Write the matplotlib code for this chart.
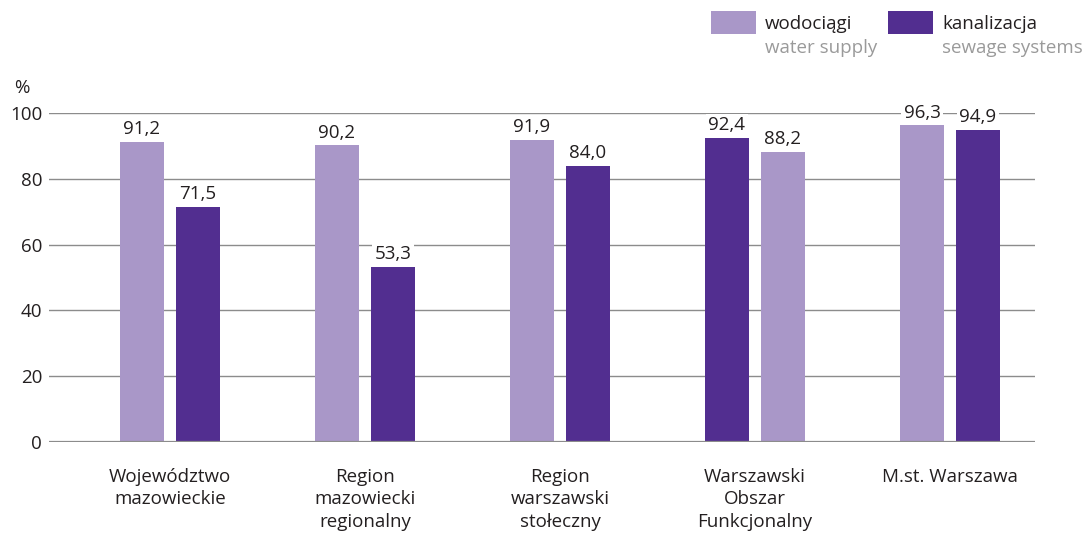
import numpy as np
import matplotlib.pyplot as plt
from matplotlib.patches import Rectangle

plt.rcParams['font.family'] = ['Open Sans', 'DejaVu Sans']

# data
categories = ['Województwo\nmazowieckie', 'Region\nmazowiecki\nregionalny',
              'Region\nwarszawski\nstołeczny', 'Warszawski\nObszar\nFunkcjonalny',
              'M.st. Warszawa']
water = [91.2, 90.2, 91.9, 88.2, 96.3]
sewage = [71.5, 53.3, 84.0, 92.4, 94.9]
# in the source the 4th group has the bars in reverse order
water_side = [-1, -1, -1, 1, -1]
yticks = [0, 20, 40, 60, 80, 100]

light = '#a997c8'
dark = '#522e90'
grid_c = '#8c8c8c'
text_c = '#231f20'
fs = 13.5

W, H = 1086, 533
fig = plt.figure(figsize=(W / 100, H / 100), dpi=100)
ax = fig.add_axes([49 / W, 91 / H, 986 / W, 329 / H])

x = np.arange(len(categories))
bw = 0.2256
off = 0.1436
side = np.array(water_side)

ax.bar(x + side * off, water, width=bw, color=light, zorder=3)
ax.bar(x - side * off, sewage, width=bw, color=dark, zorder=3)

def label(xs, vals):
    for xi, v in zip(xs, vals):
        ax.annotate(f'{v:.1f}'.replace('.', ','), (xi, v), xytext=(0, 5.5),
                    textcoords='offset points', ha='center', va='baseline',
                    fontsize=fs, color=text_c, zorder=4, annotation_clip=False,
                    bbox=dict(boxstyle='square,pad=0.15', fc='white', ec='none'))

label(x + side * off, water)
label(x - side * off, sewage)

ax.set_xlim(-0.62, 4.436)
ax.set_ylim(0, 100)
ax.set_yticks(yticks)
ax.set_yticklabels([str(t) for t in yticks])
ax.yaxis.grid(True, color=grid_c, linewidth=1.0, zorder=0)
ax.set_axisbelow(True)
ax.axhline(0, color=grid_c, linewidth=1.6, zorder=5)
for s in ax.spines.values():
    s.set_visible(False)
ax.tick_params(axis='y', length=0, pad=5, labelsize=fs, labelcolor=text_c)
ax.tick_params(axis='x', length=0, pad=18.5, labelsize=fs, labelcolor=text_c)
ax.set_xticks(x)
ax.set_xticklabels(categories, linespacing=1.32, va='top')

fig.text(14 / W, 1 - 88 / H, '%', fontsize=fs, color=text_c, va='center')

# legend
items = [(711, light, 'wodociągi', 'water supply'),
         (888, dark, 'kanalizacja', 'sewage systems')]
for px, col, pl, en in items:
    fig.add_artist(Rectangle((px / W, 1 - 34 / H), 45 / W, 23 / H,
                             transform=fig.transFigure, color=col, lw=0))
    fig.text((px + 54) / W, 1 - 24 / H, pl, fontsize=fs, color=text_c, va='center')
    fig.text((px + 54) / W, 1 - 48 / H, en, fontsize=fs, color='#9a9a9a', va='center')

fig.savefig('out.png', dpi=100)
